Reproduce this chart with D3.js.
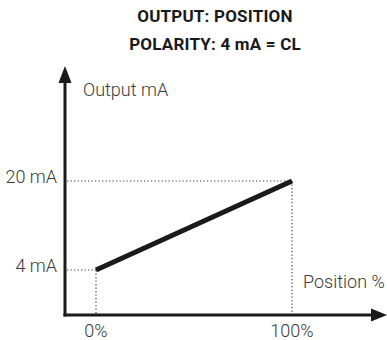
<!DOCTYPE html>
<html>
<head>
<meta charset="utf-8">
<script src="https://cdn.jsdelivr.net/npm/d3@7"></script>
<style>
  html, body { margin: 0; padding: 0; background: #fff; }
  svg { display: block; }
</style>
</head>
<body>
<svg id="chart" width="387" height="340"></svg>
<script>
// Transfer characteristic: position (%) to output current (mA)
const titleLines = ["OUTPUT: POSITION", "POLARITY: 4 mA = CL"];
const positionPct = [0, 100];
const outputMA = [4, 20];
const xTickLabels = ["0%", "100%"];
const yTickLabels = ["4 mA", "20 mA"];
const xAxisTitle = "Position %";
const yAxisTitle = "Output mA";

const svg = d3.select("#chart");
const originX = 65, originY = 315;

const x = d3.scaleLinear().domain([0, 100]).range([96, 292]);
const y = d3.scaleLinear().domain([4, 20]).range([270, 181]);

const ink = "#1a1a1a";
const textColor = "#3a3a3a";
const lightFont = "Roboto, 'Open Sans', sans-serif";

// Title
svg.selectAll("text.title").data(titleLines).join("text")
  .attr("class", "title")
  .attr("x", 215)
  .attr("y", (d, i) => 22 + i * 28)
  .attr("text-anchor", "middle")
  .attr("font-family", "Roboto, sans-serif")
  .attr("font-weight", "bold")
  .attr("font-size", 17)
  .attr("letter-spacing", 0.2)
  .attr("fill", ink)
  .text(d => d);

// Dotted guides from the axes to each end of the line
const pts = positionPct.map((p, i) => ({ p, v: outputMA[i] }));
const guides = svg.append("g")
  .attr("stroke", "#444")
  .attr("stroke-width", 1.2)
  .attr("stroke-dasharray", "1.3,2.2")
  .attr("fill", "none");
pts.forEach(d => {
  guides.append("line")
    .attr("x1", originX + 2).attr("x2", x(d.p))
    .attr("y1", y(d.v)).attr("y2", y(d.v));
  guides.append("line")
    .attr("x1", x(d.p)).attr("x2", x(d.p))
    .attr("y1", y(d.v)).attr("y2", originY - 1);
});

// Axes with arrowheads
const axes = svg.append("g");
axes.append("line")
  .attr("x1", originX).attr("x2", originX)
  .attr("y1", originY + 1.5).attr("y2", 80)
  .attr("stroke", ink).attr("stroke-width", 3);
axes.append("line")
  .attr("x1", originX - 1.5).attr("x2", 374)
  .attr("y1", originY).attr("y2", originY)
  .attr("stroke", ink).attr("stroke-width", 3);
axes.append("path")
  .attr("d", `M${originX},66 L${originX - 6.5},83 L${originX + 6.5},83 Z`)
  .attr("fill", ink);
axes.append("path")
  .attr("d", `M387,${originY} L371,${originY - 6.5} L371,${originY + 6.5} Z`)
  .attr("fill", ink);

// Output line
svg.append("path")
  .datum(pts)
  .attr("d", d3.line().x(d => x(d.p)).y(d => y(d.v)))
  .attr("stroke", ink)
  .attr("stroke-width", 5)
  .attr("fill", "none");

const labelSize = 18;

// Tick labels
svg.selectAll("text.ytick").data(outputMA).join("text")
  .attr("class", "ytick")
  .attr("x", 57)
  .attr("y", d => y(d) + 2)
  .attr("text-anchor", "end")
  .attr("font-family", lightFont)
  .attr("font-weight", 300)
  .attr("font-size", labelSize)
  .attr("fill", textColor)
  .text((d, i) => yTickLabels[i]);

svg.selectAll("text.xtick").data(positionPct).join("text")
  .attr("class", "xtick")
  .attr("x", d => x(d))
  .attr("y", 337)
  .attr("text-anchor", "middle")
  .attr("font-family", lightFont)
  .attr("font-weight", 300)
  .attr("font-size", labelSize)
  .attr("fill", textColor)
  .text((d, i) => xTickLabels[i]);

// Axis titles
svg.append("text")
  .attr("x", 83).attr("y", 96)
  .attr("font-family", lightFont).attr("font-weight", 300)
  .attr("font-size", labelSize).attr("fill", textColor)
  .text(yAxisTitle);
svg.append("text")
  .attr("x", 303).attr("y", 288)
  .attr("font-family", lightFont).attr("font-weight", 300)
  .attr("font-size", labelSize).attr("fill", textColor)
  .text(xAxisTitle);
</script>
</body>
</html>
